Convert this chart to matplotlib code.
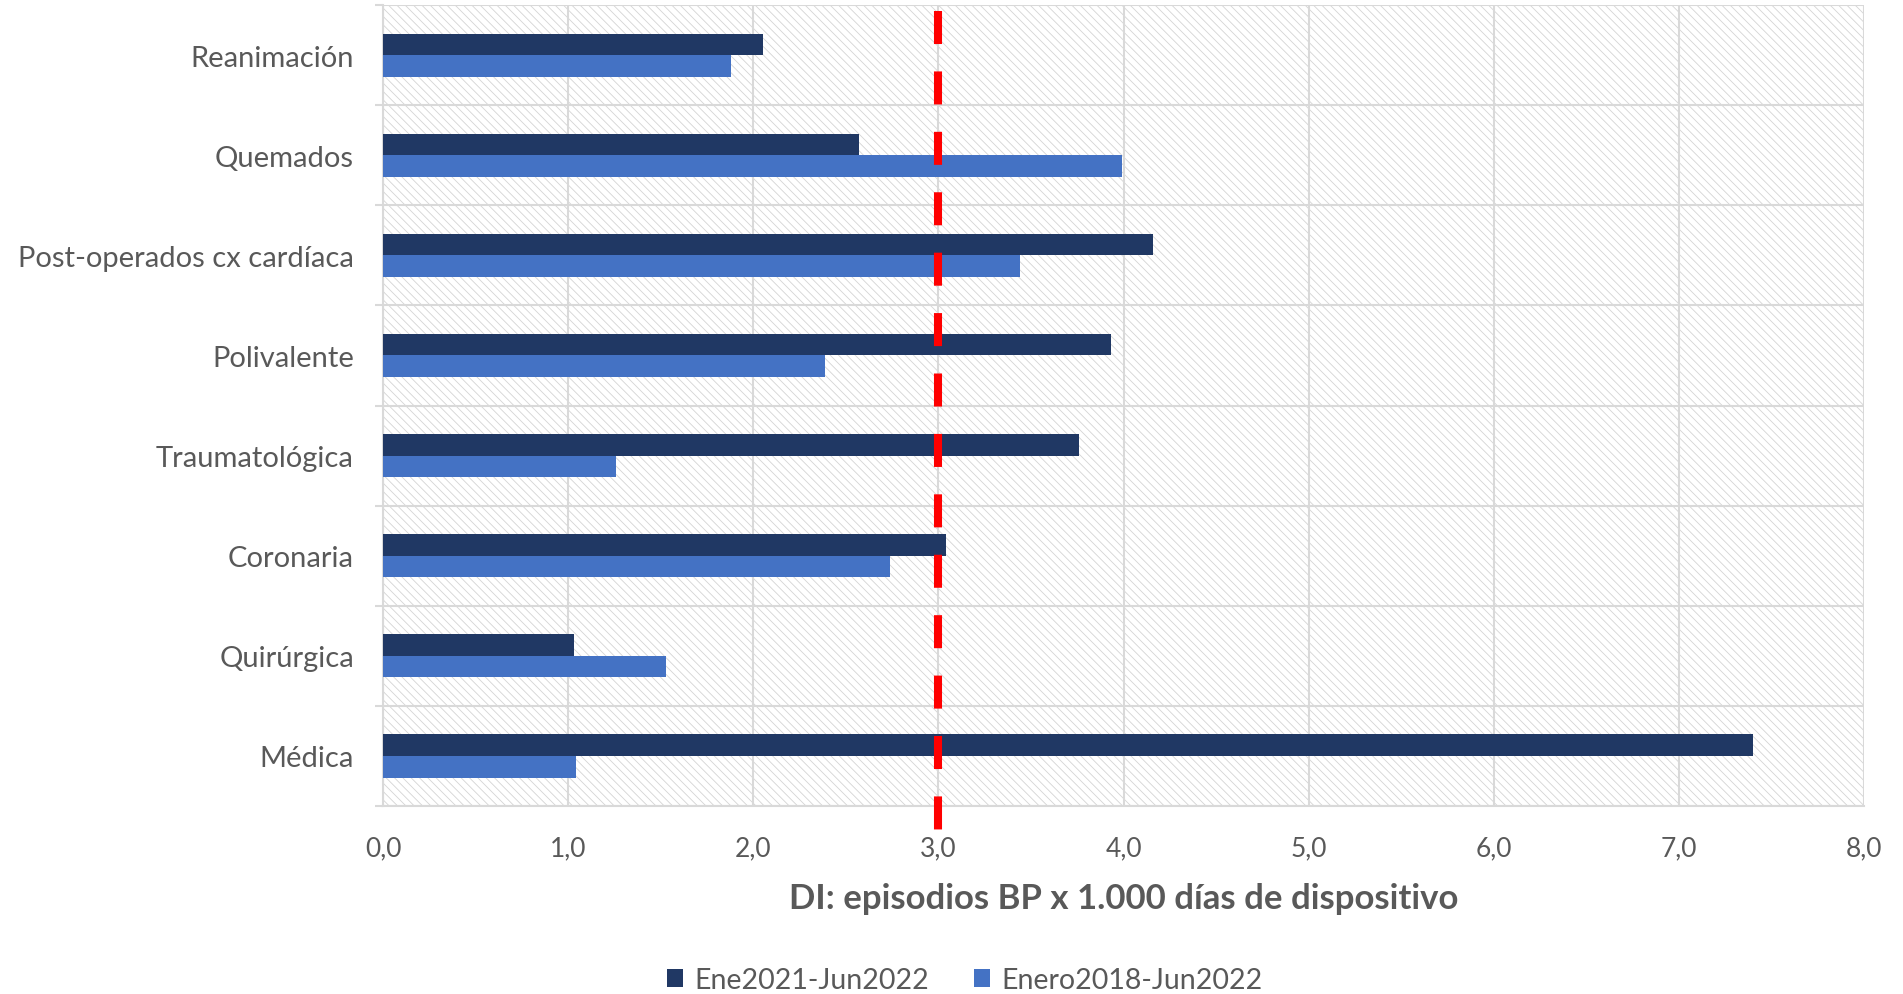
import matplotlib
matplotlib.use("Agg")
import matplotlib.pyplot as plt
from matplotlib.patches import Patch, Rectangle
import numpy as np

plt.rcParams["font.family"] = ["Lato", "DejaVu Sans"]
plt.rcParams["hatch.linewidth"] = 0.6

categories = ["Médica", "Quirúrgica", "Coronaria", "Traumatológica",
              "Polivalente", "Post-operados cx cardíaca", "Quemados", "Reanimación"]
ene2021_jun2022 = [7.40, 1.03, 3.04, 3.76, 3.93, 4.16, 2.57, 2.05]
ene2018_jun2022 = [1.04, 1.53, 2.74, 1.26, 2.39, 3.44, 3.99, 1.88]
series_names = ["Ene2021-Jun2022", "Enero2018-Jun2022"]
xticks = [0, 1, 2, 3, 4, 5, 6, 7, 8]
xtick_labels = ["0,0", "1,0", "2,0", "3,0", "4,0", "5,0", "6,0", "7,0", "8,0"]
standard = 3.0

DARK = "#203864"
LIGHT = "#4472C4"
GRID = "#d9d9d9"
TEXT = "#595959"

fig = plt.figure(figsize=(19.03, 9.95), dpi=100)
ax = fig.add_axes([0.2013, 0.1889, 0.7782, 0.8051])

# hatched plot-area background
ax.patch.set_visible(False)
bg = Rectangle((0, 0), 1, 1, transform=ax.transAxes, facecolor="white",
               edgecolor="#d4d4d4", lw=0, hatch="\\\\\\\\", zorder=0)
ax.add_patch(bg)

y = np.arange(len(categories))
h = 0.215
ax.barh(y + h / 2, ene2021_jun2022, height=h, color=DARK, zorder=3)
ax.barh(y - h / 2, ene2018_jun2022, height=h, color=LIGHT, zorder=3)

ax.plot([standard, standard], [7.44, -0.75], color="#ff0000", lw=5.8,
        linestyle=(0, (4.1, 3.4)), zorder=5, clip_on=False)

ax.set_xlim(0, 8)
ax.set_ylim(-0.5, 7.5)
ax.set_xticks(xticks)
ax.set_xticklabels(xtick_labels)
ax.set_yticks(y)
ax.set_yticklabels(categories, va="center_baseline")
ax.set_yticks(np.arange(-0.5, 8, 1), minor=True)

ax.grid(axis="x", which="major", color=GRID, lw=1.5, zorder=1)
ax.grid(axis="y", which="minor", color=GRID, lw=1.5, zorder=1)
ax.set_axisbelow(True)

ax.tick_params(axis="x", length=0, pad=21, labelsize=19, labelcolor=TEXT)
ax.tick_params(axis="y", which="major", length=0, pad=21, labelsize=21, labelcolor=TEXT)
ax.tick_params(axis="y", which="minor", length=6, width=1.5, color=GRID)

for s in ["top", "right"]:
    ax.spines[s].set_visible(False)
for s in ["left", "bottom"]:
    ax.spines[s].set_color(GRID)
    ax.spines[s].set_linewidth(1.5)

ax.set_xlabel("DI: episodios BP x 1.000 días de dispositivo", fontsize=25,
              fontweight="bold", color=TEXT, labelpad=16)

handles = [Patch(facecolor=DARK), Patch(facecolor=LIGHT)]
fig.legend(handles, series_names, loc="center", bbox_to_anchor=(0.507, 0.014),
           ncol=2, frameon=False, fontsize=20.5, labelcolor=TEXT,
           handlelength=0.55, handleheight=0.55, handletextpad=0.4,
           columnspacing=1.6)

plt.savefig("out.png", dpi=100)
